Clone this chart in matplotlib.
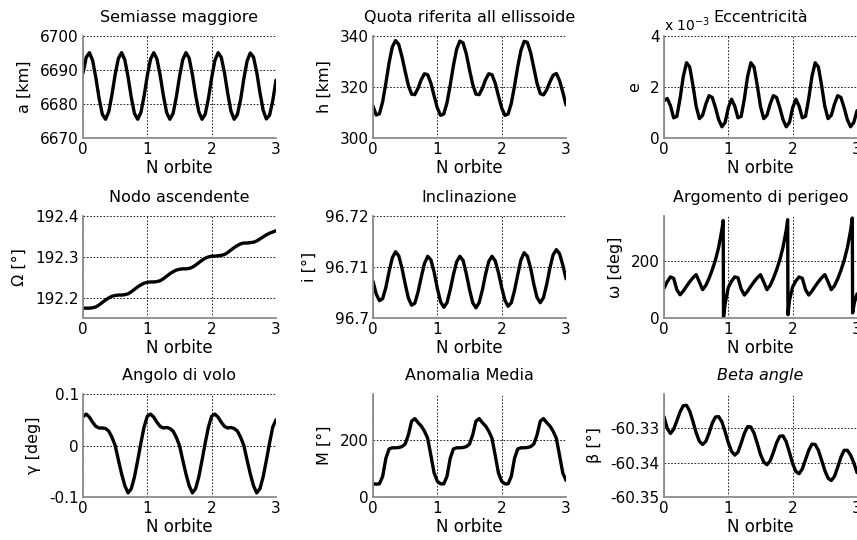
import numpy as np
import matplotlib
matplotlib.use("Agg")
import matplotlib.pyplot as plt

# ---------------- data ----------------
orbite = np.linspace(0.0, 3.0, 61)   # sampling grid, N orbite

semiasse = [
    6689.1, 6693.7, 6695.1, 6692.8, 6687.7, 6681.7, 6677.0, 6675.5, 6677.7, 6682.7,
    6688.7, 6693.4, 6695.1, 6693.0, 6688.0, 6682.0, 6677.2, 6675.5, 6677.5, 6682.4,
    6688.4, 6693.2, 6695.1, 6693.2, 6688.4, 6682.4, 6677.5, 6675.5, 6677.2, 6682.0,
    6688.0, 6693.0, 6695.1, 6693.5, 6688.7, 6682.7, 6677.7, 6675.5, 6677.0, 6681.7,
    6687.7, 6692.8, 6695.1, 6693.7, 6689.1, 6683.1, 6677.9, 6675.5, 6676.9, 6681.3,
    6687.4, 6692.6, 6695.0, 6693.8, 6689.4, 6683.4, 6678.2, 6675.6, 6676.7, 6681.0,
    6687.0]

quota = [
    312.5, 309.0, 309.5, 314.2, 321.5, 329.5, 335.7, 338.2, 336.7, 331.9,
    326.1, 320.6, 317.2, 317.0, 319.5, 322.9, 325.2, 324.8, 321.5, 316.5,
    311.8, 308.9, 309.4, 313.8, 320.7, 328.4, 334.8, 338.0, 337.3, 333.0,
    326.8, 321.0, 317.2, 317.0, 319.5, 322.9, 325.2, 324.8, 321.5, 316.5,
    311.8, 308.9, 309.4, 313.6, 320.4, 328.0, 334.4, 337.9, 337.5, 333.5,
    327.5, 321.4, 317.4, 316.9, 318.9, 322.0, 324.6, 325.3, 322.5, 318.0,
    313.0]

eccentricita_e3 = [   # units of 1e-3
    1.46, 1.55, 1.27, 0.79, 0.85, 1.55, 2.42, 2.95, 2.78, 2.06,
    1.24, 0.76, 0.89, 1.33, 1.66, 1.59, 1.19, 0.72, 0.44, 0.61,
    1.19, 1.52, 1.25, 0.79, 0.85, 1.55, 2.42, 2.95, 2.78, 2.06,
    1.24, 0.76, 0.89, 1.33, 1.66, 1.59, 1.19, 0.72, 0.44, 0.61,
    1.19, 1.52, 1.25, 0.79, 0.85, 1.55, 2.42, 2.95, 2.78, 2.06,
    1.24, 0.76, 0.89, 1.33, 1.66, 1.59, 1.19, 0.72, 0.44, 0.61,
    1.07]

nodo = [
    192.175, 192.175, 192.175, 192.176, 192.178, 192.183, 192.189, 192.195, 192.200, 192.204,
    192.206, 192.207, 192.207, 192.208, 192.210, 192.215, 192.221, 192.227, 192.232, 192.236,
    192.238, 192.239, 192.239, 192.240, 192.242, 192.247, 192.253, 192.259, 192.264, 192.268,
    192.270, 192.271, 192.271, 192.272, 192.275, 192.280, 192.286, 192.292, 192.297, 192.300,
    192.302, 192.302, 192.303, 192.304, 192.306, 192.311, 192.317, 192.323, 192.328, 192.332,
    192.334, 192.334, 192.335, 192.336, 192.339, 192.344, 192.349, 192.354, 192.358, 192.361,
    192.364]

inclinazione = [
    96.7072, 96.7047, 96.7034, 96.7038, 96.7060, 96.7091, 96.7118, 96.7130, 96.7122, 96.7098,
    96.7067, 96.7039, 96.7025, 96.7029, 96.7051, 96.7080, 96.7107, 96.7121, 96.7114, 96.7090,
    96.7058, 96.7032, 96.7021, 96.7030, 96.7055, 96.7085, 96.7110, 96.7121, 96.7113, 96.7087,
    96.7056, 96.7030, 96.7020, 96.7030, 96.7055, 96.7086, 96.7111, 96.7121, 96.7112, 96.7089,
    96.7060, 96.7035, 96.7023, 96.7030, 96.7054, 96.7085, 96.7114, 96.7128, 96.7121, 96.7098,
    96.7066, 96.7040, 96.7030, 96.7040, 96.7066, 96.7098, 96.7124, 96.7134, 96.7126, 96.7104,
    96.7077]

perigeo_x = [
    0.00, 0.05, 0.10, 0.15, 0.20, 0.25, 0.30, 0.35, 0.40, 0.45, 0.50, 0.55, 0.60, 0.65,
    0.70, 0.75, 0.80, 0.85, 0.90, 0.92, 0.925, 0.95,
    1.00, 1.05, 1.10, 1.15, 1.20, 1.25, 1.30, 1.35, 1.40, 1.45, 1.50, 1.55, 1.60, 1.65,
    1.70, 1.75, 1.80, 1.85, 1.90, 1.922, 1.927, 1.95,
    2.00, 2.05, 2.10, 2.15, 2.20, 2.25, 2.30, 2.35, 2.40, 2.45, 2.50, 2.55, 2.60, 2.65,
    2.70, 2.75, 2.80, 2.85, 2.90, 2.927, 2.932, 2.96, 3.00]
perigeo = [
    105, 128, 145, 140, 100, 82, 95, 112, 128, 142, 153, 127, 100, 115,
    140, 170, 205, 250, 312, 344, 2, 50,
    108, 130, 145, 142, 102, 81, 95, 112, 128, 142, 153, 127, 100, 115,
    140, 170, 205, 250, 310, 347, 12, 62,
    110, 131, 145, 140, 100, 81, 95, 112, 128, 142, 153, 128, 100, 114,
    138, 168, 203, 248, 308, 353, 18, 55, 85]

volo = [
    0.056, 0.061, 0.055, 0.045, 0.037, 0.034, 0.034, 0.033, 0.028, 0.016,
    0.000, -0.028, -0.055, -0.078, -0.092, -0.084, -0.061, -0.029, 0.005, 0.036,
    0.057, 0.061, 0.055, 0.045, 0.037, 0.034, 0.035, 0.033, 0.028, 0.016,
    0.000, -0.028, -0.055, -0.078, -0.092, -0.084, -0.061, -0.029, 0.005, 0.036,
    0.057, 0.061, 0.055, 0.045, 0.037, 0.034, 0.035, 0.033, 0.028, 0.016,
    0.000, -0.028, -0.055, -0.078, -0.092, -0.084, -0.061, -0.029, 0.005, 0.036,
    0.050]

anomalia = [
    46, 45, 46, 72, 135, 168, 172, 172, 173, 176,
    185, 217, 265, 274, 260, 248, 230, 205, 145, 84,
    55, 46, 46, 72, 135, 168, 172, 172, 173, 176,
    185, 217, 265, 274, 260, 248, 230, 205, 145, 84,
    55, 46, 46, 72, 135, 168, 172, 172, 173, 176,
    185, 217, 265, 274, 260, 248, 230, 205, 145, 84,
    58]

beta = [
    -60.3266, -60.3300, -60.3315, -60.3303, -60.3278, -60.3252, -60.3234, -60.3233, -60.3250, -60.3280,
    -60.3313, -60.3338, -60.3347, -60.3338, -60.3314, -60.3285, -60.3267, -60.3266, -60.3281, -60.3310,
    -60.3342, -60.3367, -60.3378, -60.3369, -60.3343, -60.3314, -60.3295, -60.3296, -60.3314, -60.3344,
    -60.3376, -60.3398, -60.3406, -60.3395, -60.3370, -60.3342, -60.3323, -60.3322, -60.3339, -60.3370,
    -60.3403, -60.3426, -60.3432, -60.3418, -60.3391, -60.3364, -60.3346, -60.3347, -60.3364, -60.3393,
    -60.3423, -60.3445, -60.3452, -60.3440, -60.3413, -60.3384, -60.3364, -60.3364, -60.3378, -60.3400,
    -60.3429]

x_ticks = [0, 1, 2, 3]
x_ticklabels = ["0", "1", "2", "3"]

# ---------------- figure ----------------
plt.rcParams['font.family'] = ['DejaVu Sans']
W, H = 857.0, 540.0
fig = plt.figure(figsize=(W / 100, H / 100), dpi=100)

col_left = [83, 373, 664]
col_w = 193
row_top = [36, 216, 394]
row_bot = [138, 318, 497]

FS = 11


def panel(r, c, x, y, title, ylabel, ylim, yticks, yticklabels, italic=False):
    ax = fig.add_axes([col_left[c] / W, 1 - row_bot[r] / H, col_w / W,
                       (row_bot[r] - row_top[r]) / H])
    ax.plot(x, y, color='black', lw=2.4, solid_joinstyle='round',
            solid_capstyle='round')
    ax.set_xlim(0, 3)
    ax.set_ylim(*ylim)
    ax.set_xticks(x_ticks)
    ax.set_xticklabels(x_ticklabels)
    ax.set_yticks(yticks)
    ax.set_yticklabels(yticklabels)
    ax.grid(True, color='black', linestyle=(0, (2, 2)), linewidth=0.6)
    for s in ['top', 'right']:
        ax.spines[s].set_visible(False)
    for s in ['left', 'bottom']:
        ax.spines[s].set_color('#8c8c8c')
        ax.spines[s].set_linewidth(1.3)
    ax.tick_params(length=0, labelsize=FS, pad=3)
    ax.set_title(title, fontsize=11.5, pad=10,
                 fontstyle='italic' if italic else 'normal')
    ax.set_xlabel("N orbite", fontsize=12, labelpad=1)
    ax.set_ylabel(ylabel, fontsize=11.5, labelpad=6)
    return ax


panel(0, 0, orbite, semiasse, "Semiasse maggiore", "a [km]",
      (6670, 6700), [6670, 6680, 6690, 6700], ["6670", "6680", "6690", "6700"])
panel(0, 1, orbite, quota, "Quota riferita all ellissoide", "h [km]",
      (300, 340), [300, 320, 340], ["300", "320", "340"])
axe = panel(0, 2, orbite, eccentricita_e3, "Eccentricità", "e",
            (0, 4), [0, 2, 4], ["0", "2", "4"])
axe.text(0.0, 1.02, r"x 10$^{\mathregular{-3}}$", transform=axe.transAxes,
         fontsize=10, ha='left', va='bottom')
panel(1, 0, orbite, nodo, "Nodo ascendente", "Ω [°]",
      (192.151, 192.4), [192.2, 192.3, 192.4], ["192.2", "192.3", "192.4"])
panel(1, 1, orbite, inclinazione, "Inclinazione", "i [°]",
      (96.70, 96.72), [96.70, 96.71, 96.72], ["96.7", "96.71", "96.72"])
panel(1, 2, perigeo_x, perigeo, "Argomento di perigeo", "ω [deg]",
      (0, 360), [0, 200], ["0", "200"])
panel(2, 0, orbite, volo, "Angolo di volo", "γ [deg]",
      (-0.1, 0.1), [-0.1, 0, 0.1], ["-0.1", "0", "0.1"])
panel(2, 1, orbite, anomalia, "Anomalia Media", "M [°]",
      (0, 360), [0, 200], ["0", "200"])
panel(2, 2, orbite, beta, "Beta angle", "β [°]",
      (-60.35, -60.32), [-60.35, -60.34, -60.33], ["-60.35", "-60.34", "-60.33"],
      italic=True)

fig.savefig("out.png", dpi=100)
